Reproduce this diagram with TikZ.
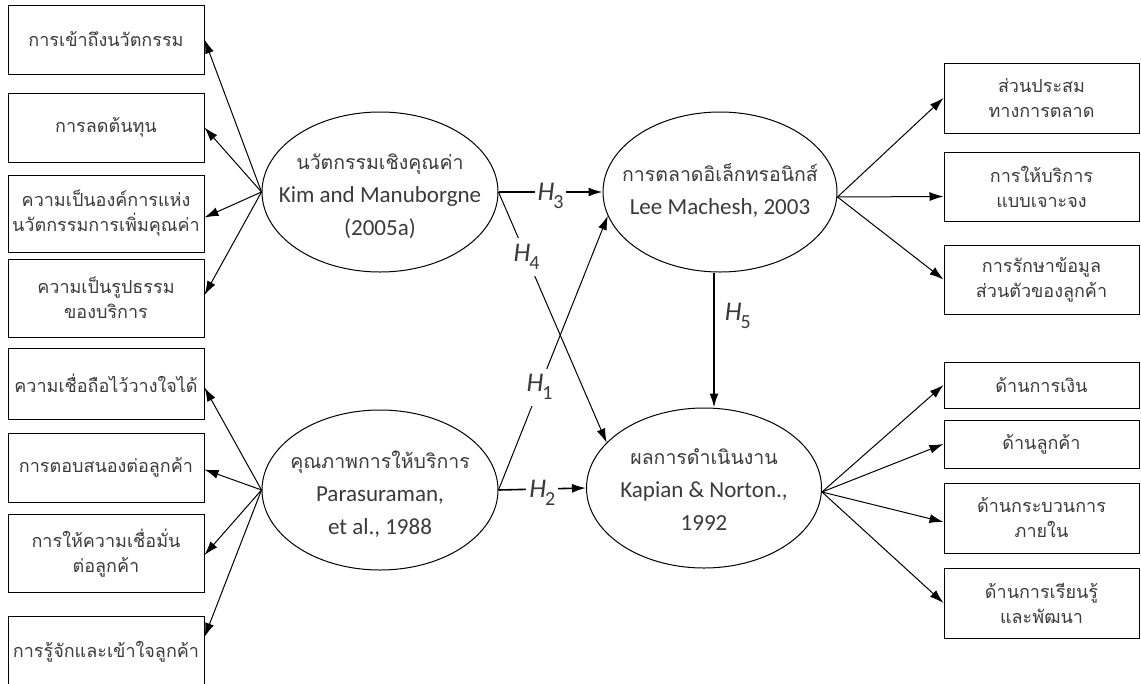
\documentclass[tikz,border=0pt]{standalone}
\usepackage{fontspec}
\setmainfont{Carlito}
\newfontfamily\thai[Script=Thai]{Loma}
\usetikzlibrary{shapes.geometric,arrows.meta}
\definecolor{ink}{HTML}{3A3A3A}
% hypothesis label: italic H with an upright subscript
\newcommand{\hname}[1]{\textit{H}\kern-1pt\raisebox{-8pt}{\fontsize{20}{20}\selectfont #1}}
\newcommand{\thline}{\thai\fontsize{19.5}{33}\selectfont}
\begin{document}
\begin{tikzpicture}[x=1pt,y=-1pt,
  every node/.style={text=ink},
  box/.style={draw=black, line width=1pt, rectangle, minimum width=196pt,
    inner sep=0pt, align=center, font=\thai\fontsize{18}{25}\selectfont},
  oval/.style={draw=black, line width=1pt, ellipse, inner sep=0pt,
    minimum width=236pt, minimum height=160pt},
  ovaltext/.style={align=center, inner sep=0pt, text=ink,
    font=\fontsize{23}{33}\selectfont},
  arr/.style={draw=black, line width=1pt, -{Latex[length=14pt,width=9pt]}},
  harr/.style={arr, line width=1.6pt},
  hyp/.style={fill=white, inner sep=3pt, font=\fontsize{27}{30}\selectfont}
]
\useasboundingbox (0,0) rectangle (1141,683);

% constructs: the outline is a fixed ellipse, the wording sits in its centre label
\node[oval, label={[ovaltext, yshift=-4pt]center:{{\thline นวัตกรรมเชิงคุณค่า}\\Kim and Manuborgne\\(2005a)}}] (e1) at (380,192) {};
\node[oval, label={[ovaltext, yshift=-4pt]center:{{\thline คุณภาพการให้บริการ}\\Parasuraman,\\et al., 1988}}] (e2) at (380,490) {};
\node[oval, minimum width=234pt, label={[ovaltext, yshift=2pt]center:{{\thline การตลาดอิเล็กทรอนิกส์}\\Lee Machesh, 2003}}] (e3) at (720,192) {};
\node[oval, minimum width=235pt, label={[ovaltext, yshift=-2pt]center:{{\thline ผลการดำเนินงาน}\\Kapian \& Norton.,\\1992}}] (e4) at (704,488) {};

% indicators on the left
\node[box, minimum height=69pt] (L1) at (106,39.5) {การเข้าถึงนวัตกรรม};
\node[box, minimum height=69pt] (L2) at (106,127.5) {การลดต้นทุน};
\node[box, minimum height=77pt] (L3) at (106,213.5) {ความเป็นองค์การแห่ง\\นวัตกรรมการเพิ่มคุณค่า};
\node[box, minimum height=78pt] (L4) at (106,298) {ความเป็นรูปธรรม\\ของบริการ};
\node[box, minimum height=71pt] (L5) at (106,383.5) {ความเชื่อถือไว้วางใจได้};
\node[box, minimum height=69pt] (L6) at (106,467.5) {การตอบสนองต่อลูกค้า};
\node[box, minimum height=78pt] (L7) at (106,553) {การให้ความเชื่อมั่น\\ต่อลูกค้า};
\node[box, minimum height=72pt] (L8) at (106,652) {การรู้จักและเข้าใจลูกค้า};

% indicators on the right
\node[box, minimum width=195pt, minimum height=70pt] (R1) at (1041.5,98) {ส่วนประสม\\ทางการตลาด};
\node[box, minimum width=195pt, minimum height=69pt] (R2) at (1041.5,186.5) {การให้บริการ\\แบบเจาะจง};
\node[box, minimum width=195pt, minimum height=69pt] (R3) at (1041.5,279.5) {การรักษาข้อมูล\\ส่วนตัวของลูกค้า};
\node[box, minimum width=195pt, minimum height=46pt] (R4) at (1041.5,385) {ด้านการเงิน};
\node[box, minimum width=195pt, minimum height=48pt] (R5) at (1041.5,444) {ด้านลูกค้า};
\node[box, minimum width=195pt, minimum height=70pt] (R6) at (1041.5,518) {ด้านกระบวนการ\\ภายใน};
\node[box, minimum width=195pt, minimum height=70pt] (R7) at (1041.5,603) {ด้านการเรียนรู้\\และพัฒนา};

% measurement arrows
\draw[arr] (e1.west) -- (L1.east);
\draw[arr] (e1.west) -- (L2.east);
\draw[arr] (e1.west) -- ([yshift=-4pt]L3.east);
\draw[arr] (e1.west) -- ([yshift=3pt]L4.east);
\draw[arr] (e2.west) -- ([yshift=-4pt]L5.east);
\draw[arr] (e2.west) -- ([yshift=-2pt]L6.east);
\draw[arr] (e2.west) -- ([yshift=-2pt]L7.east);
\draw[arr] (e2.west) -- ([yshift=15pt]L8.east);

\draw[arr] ([yshift=-5pt]e3.east) -- (R1.west);
\draw[arr] ([yshift=-5pt]e3.east) -- ([yshift=-10pt]R2.west);
\draw[arr] ([yshift=-5pt]e3.east) -- (R3.west);
\draw[arr] ([yshift=-4pt]e4.east) -- (R4.west);
\draw[arr] ([yshift=-4pt]e4.east) -- (R5.west);
\draw[arr] ([yshift=-4pt]e4.east) -- ([yshift=-4pt]R6.west);
\draw[arr] ([yshift=-4pt]e4.east) -- (R7.west);

% hypotheses
\draw[harr] (e1.east) -- node[hyp, midway, yshift=-4pt] {\hname{3}} (e3.west);
\draw[arr] (e1.east) -- node[hyp, pos=0.26, inner sep=6pt] {\hname{4}} (e4.155);
\draw[arr] (e2.east) -- node[hyp, pos=0.375, inner sep=6pt] {\hname{1}} (e3.192);
\draw[harr] (e2.east) -- node[hyp, midway, yshift=-4pt] {\hname{2}} (e4.west);
\draw[harr] ([xshift=-6pt]e3.south) -- node[right, pos=0.32, font=\fontsize{27}{30}\selectfont, inner sep=10pt] {\hname{5}} ([xshift=-6pt]e3.south |- e4.north);
\end{tikzpicture}
\end{document}
